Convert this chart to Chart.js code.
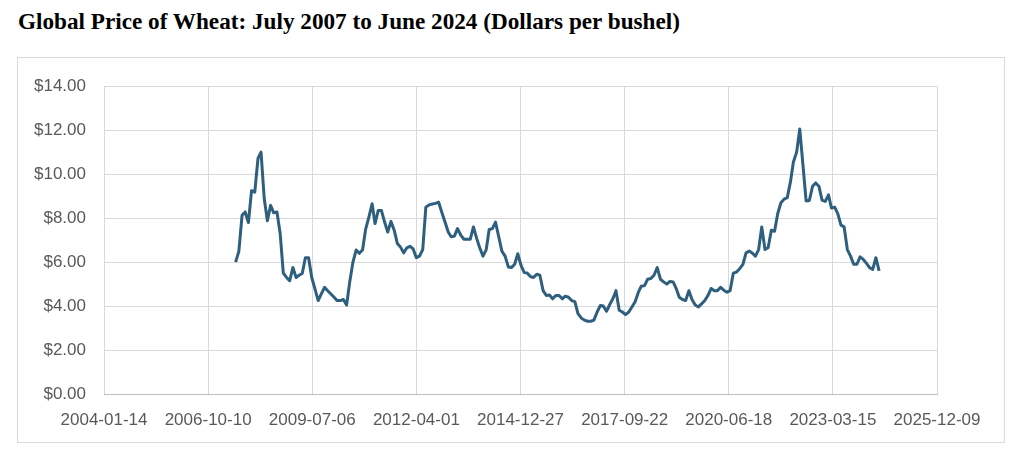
<!DOCTYPE html>
<html>
<head>
<meta charset="utf-8">
<title>Global Price of Wheat</title>
<script src="https://cdn.jsdelivr.net/npm/chart.js@4.4.1/dist/chart.umd.min.js"></script>
<style>
    html, body { margin: 0; padding: 0; background: #ffffff; }
    body { width: 1024px; height: 466px; position: relative; overflow: hidden; }
    #title {
        position: absolute; left: 18px; top: 8px; margin: 0;
        font: bold 23.2px 'Liberation Serif', 'Times New Roman', serif;
        color: #000000; white-space: nowrap;
    }
    #frame {
        position: absolute; left: 17px; top: 57px;
        width: 986px; height: 384px;
        border: 1px solid #d9d9d9;
    }
    #frame canvas { display: block; }
</style>
</head>
<body>
<div id="title">Global Price of Wheat: July 2007 to June 2024 (Dollars per bushel)</div>
<div id="frame"><canvas id="wheatChart" width="986" height="384"></canvas></div>

<script>
// Mesecne cene psenice, jul 2007 - jun 2024 (USD po bušelu), ocitano sa grafika
const firstMonth = { year: 2007, month: 7 };
const wheatPrices = [
    6.00, 6.49, 8.13, 8.28, 7.80, 9.25, 9.18, 10.72, 11.00, 8.88,
    7.88, 8.58, 8.24, 8.28, 7.30, 5.50, 5.30, 5.15, 5.75, 5.30,
    5.40, 5.48, 6.20, 6.20, 5.30, 4.78, 4.25, 4.55, 4.85, 4.70,
    4.55, 4.40, 4.25, 4.25, 4.30, 4.05, 5.10, 6.00, 6.55, 6.40,
    6.55, 7.50, 8.05, 8.65, 7.75, 8.35, 8.35, 7.82, 7.37, 7.85,
    7.45, 6.85, 6.68, 6.42, 6.65, 6.72, 6.60, 6.20, 6.27, 6.57,
    8.50, 8.60, 8.64, 8.67, 8.72, 8.27, 7.82, 7.37, 7.15, 7.18,
    7.52, 7.23, 7.04, 7.04, 7.04, 7.60, 7.08, 6.64, 6.27, 6.57,
    7.48, 7.52, 7.82, 7.15, 6.50, 6.27, 5.78, 5.75, 5.90, 6.38,
    5.85, 5.52, 5.50, 5.34, 5.30, 5.45, 5.40, 4.70, 4.48, 4.50,
    4.33, 4.48, 4.48, 4.33, 4.45, 4.40, 4.25, 4.20, 3.66, 3.46,
    3.36, 3.31, 3.31, 3.36, 3.73, 4.03, 4.00, 3.76, 4.06, 4.33,
    4.70, 3.81, 3.73, 3.61, 3.73, 3.96, 4.20, 4.63, 4.90, 4.93,
    5.22, 5.25, 5.40, 5.75, 5.22, 5.10, 5.00, 5.12, 5.10, 4.78,
    4.40, 4.30, 4.25, 4.70, 4.30, 4.05, 3.96, 4.10, 4.25, 4.48,
    4.80, 4.70, 4.70, 4.85, 4.72, 4.63, 4.70, 5.50, 5.55, 5.70,
    5.90, 6.42, 6.50, 6.40, 6.27, 6.57, 7.60, 6.57, 6.65, 7.45,
    7.40, 8.20, 8.70, 8.86, 8.93, 9.66, 10.55, 11.00, 12.05, 10.40,
    8.78, 8.80, 9.45, 9.60, 9.45, 8.82, 8.76, 9.06, 8.46, 8.50,
    8.20, 7.68, 7.60, 6.57, 6.27, 5.90, 5.90, 6.24, 6.12, 5.94,
    5.75, 5.67, 6.20, 5.60
];

// Oznake x ose (Excel datumska osa, korak 1000 dana)
const xTickLabels = [
    '2004-01-14', '2006-10-10', '2009-07-06', '2012-04-01', '2014-12-27',
    '2017-09-22', '2020-06-18', '2023-03-15', '2025-12-09'
];
const yTicks = [0, 2, 4, 6, 8, 10, 12, 14];

const LINE_COLOR = '#2f5f7f';
const GRID_COLOR = '#d9d9d9';
const LABEL_COLOR = '#595959';

function toMs(iso) {
    const p = iso.split('-').map(Number);
    return Date.UTC(p[0], p[1] - 1, p[2]);
}

function formatDate(ms) {
    const d = new Date(ms);
    const mm = String(d.getUTCMonth() + 1).padStart(2, '0');
    const dd = String(d.getUTCDate()).padStart(2, '0');
    return `${d.getUTCFullYear()}-${mm}-${dd}`;
}

// Tacke { x: prvi dan meseca, y: cena }
const points = wheatPrices.map((v, i) => ({
    x: Date.UTC(firstMonth.year, firstMonth.month - 1 + i, 1),
    y: v
}));

const ctx = document.getElementById('wheatChart');

new Chart(ctx, {
    type: 'line',
    data: {
        datasets: [{
            label: 'Wheat',
            data: points,
            borderColor: LINE_COLOR,
            backgroundColor: LINE_COLOR,
            borderWidth: 3,
            pointRadius: 0,
            tension: 0,
            fill: false,
            borderJoinStyle: 'round'
        }]
    },
    options: {
        responsive: false,
        animation: false,
        devicePixelRatio: window.devicePixelRatio || 1,
        layout: {
            padding: { top: 21, right: 67, left: 0, bottom: 0 }
        },
        plugins: {
            legend: { display: false },
            title: { display: false },
            tooltip: { enabled: false }
        },
        scales: {
            x: {
                type: 'linear',
                min: toMs(xTickLabels[0]),
                max: toMs(xTickLabels[xTickLabels.length - 1]),
                afterBuildTicks: scale => {
                    scale.ticks = xTickLabels.map(s => ({ value: toMs(s) }));
                },
                afterFit: scale => { scale.height = 48; },
                grid: { color: GRID_COLOR, lineWidth: 1, drawTicks: false },
                border: { color: '#bfbfbf', width: 1 },
                ticks: {
                    autoSkip: false,
                    maxRotation: 0,
                    padding: 16,
                    color: LABEL_COLOR,
                    font: { family: "'Liberation Sans', Arial, sans-serif", size: 17 },
                    callback: v => formatDate(v)
                }
            },
            y: {
                min: 0,
                max: 14,
                afterBuildTicks: scale => {
                    scale.ticks = yTicks.map(v => ({ value: v }));
                },
                afterFit: scale => { scale.width = 86; },
                grid: { color: GRID_COLOR, lineWidth: 1, drawTicks: false },
                border: { display: false },
                ticks: {
                    padding: 18,
                    color: LABEL_COLOR,
                    font: { family: "'Liberation Sans', Arial, sans-serif", size: 17 },
                    callback: v => '$' + Number(v).toFixed(2)
                }
            }
        }
    }
});
</script>
</body>
</html>
